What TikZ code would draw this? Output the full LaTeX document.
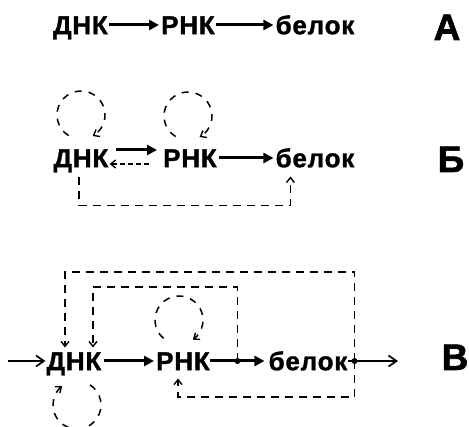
\documentclass[tikz,border=0pt]{standalone}
\usepackage{fontspec}
\setmainfont{Liberation Sans}
\newfontfamily\wide[LetterSpace=3,FakeBold=1.2]{Liberation Sans}
\newfontfamily\heavy[FakeBold=1.5]{Liberation Sans}
\usetikzlibrary{arrows.meta,calc}
\begin{document}
\begin{tikzpicture}[x=1pt,y=-1pt,
  txt/.style={font=\wide\fontsize{26}{26}\selectfont\bfseries, inner sep=0pt, text height=18.5pt, text depth=0pt},
  lbl/.style={font=\heavy\fontsize{37}{37}\selectfont\bfseries, inner sep=0pt, text height=26pt, text depth=0pt},
  thickarrow/.style={line width=3pt, -{Triangle[length=10pt,width=10pt]}},
  dashline/.style={line width=1.7pt, dash pattern=on 8pt off 6pt},
  fb/.style={dashline, -{Straight Barb[length=5pt,width=8pt,line width=1.4pt]}},
  loopline/.style={line width=1.5pt, dash pattern=on 7pt off 7pt, -{Straight Barb[length=5pt,width=8pt,line width=1.4pt]}},
  thinarrow/.style={line width=1.7pt, -{Straight Barb[length=8pt,width=11pt,line width=1.7pt]}},
  dot/.style={circle, fill, inner sep=0pt, minimum size=6pt}
]
\useasboundingbox (0,0) rectangle (469,427);

% ---------- Row A ----------
\node[txt] (dnaA) at (80.5,25) {ДНК};
\node[txt] (rnaA) at (188,25) {РНК};
\node[txt] (protA) at (315,25) {белок};
\node[lbl] (labA) at (447,27) {А};
\draw[thickarrow, shorten <=1pt, shorten >=2pt] (dnaA.east) -- (rnaA.west);
\draw[thickarrow, shorten <=1pt, shorten >=2pt] (rnaA.east) -- (protA.west);

% ---------- Row B ----------
\node[txt] (dnaB) at (81,158) {ДНК};
\node[txt] (rnaB) at (190,158) {РНК};
\node[txt] (protB) at (315,158) {белок};
\node[lbl] (labB) at (451,159) {Б};
\draw[thickarrow, shorten <=7pt, shorten >=6pt] ([yshift=8pt]dnaB.east) -- ([yshift=8pt]rnaB.west);
\draw[fb, dash pattern=on 5pt off 3pt, shorten <=14pt, shorten >=1pt] ([yshift=-6pt]rnaB.west) -- ([yshift=-6pt]dnaB.east);
\draw[thickarrow, shorten <=2pt, shorten >=2pt] (rnaB.east) -- (protB.west);
\coordinate (bstart) at ($(dnaB.south)+(-2,10)$);
\coordinate (bend) at ($(protB.south west)+(15,9)$);
\draw[fb] (bstart) |- ($(bend)+(0,29)$) -- (bend);
\draw[loopline] ($(dnaB.center)+(0,-43)+(121:24)$) arc[start angle=121, end angle=421, radius=24];
\draw[loopline] ($(rnaB.center)+(-2,-42)+(121:24)$) arc[start angle=121, end angle=421, radius=24];

% ---------- Row C ----------
\node[txt] (dnaC) at (74,361) {ДНК};
\node[txt] (rnaC) at (183,361) {РНК};
\node[txt] (protC) at (308,361) {белок};
\node[lbl] (labC) at (455,357) {В};
\coordinate (inC) at (8,361);
\coordinate (outC) at (398,361);
\draw[thinarrow, shorten >=1pt] (inC) -- (dnaC.west);
\draw[thickarrow, shorten <=2pt, shorten >=2pt] (dnaC.east) -- (rnaC.west);
\coordinate (d1) at ($(rnaC.east)!0.47!(protC.west)$);
\coordinate (d2) at ($(protC.east)+(7,0)$);
\draw[thickarrow, shorten >=4pt] (rnaC.east) -- (protC.west);
\draw[thinarrow] (protC.east) -- (outC);
\node[dot] (dot1) at (d1) {};
\node[dot] (dot2) at (d2) {};
% outer feedback
\draw[fb, shorten >=4pt] (dot2.center) -- (dot2.center |- 0,272) -| ($(dnaC.north)+(-9,0)$);
\draw[fb, shorten >=8pt] (dot2.center) -- (dot2.center |- 0,397) -| ($(rnaC.south)+(-5,0)$);
% inner feedback
\draw[fb, shorten >=4pt] (dot1.center) -- (dot1.center |- 0,287) -| ($(dnaC.north)+(19,0)$);
% self loops
\draw[loopline] ($(rnaC.center)+(-4,-41)+(130:24)$) arc[start angle=130, end angle=415, radius=24];
\draw[loopline] ($(dnaC.center)+(3,44)+(-57:24)$) arc[start angle=-57, end angle=232, radius=24];
\end{tikzpicture}
\end{document}
